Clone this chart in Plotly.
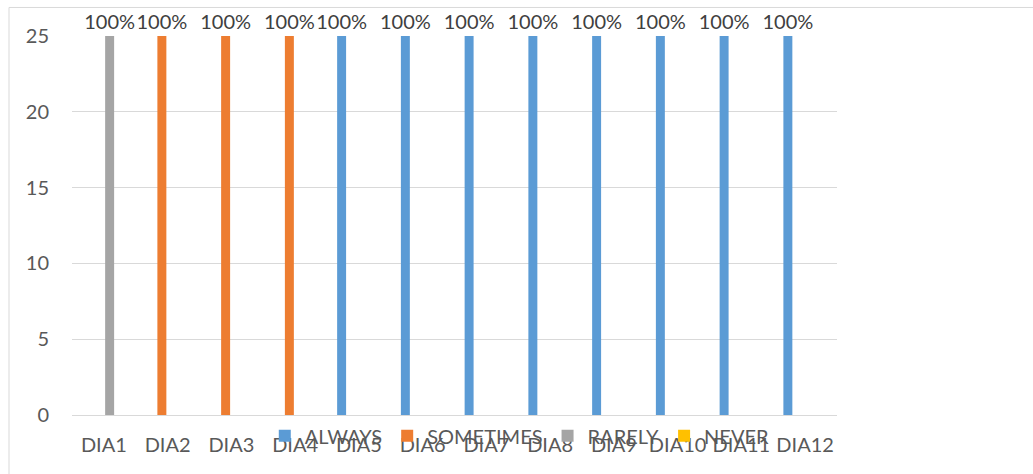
import plotly.graph_objects as go

categories = ["DIA1", "DIA2", "DIA3", "DIA4", "DIA5", "DIA6", "DIA7", "DIA8", "DIA9", "DIA10", "DIA11", "DIA12"]
always = [0, 0, 0, 0, 25, 25, 25, 25, 25, 25, 25, 25]
sometimes = [0, 25, 25, 25, 0, 0, 0, 0, 0, 0, 0, 0]
rarely = [25, 0, 0, 0, 0, 0, 0, 0, 0, 0, 0, 0]
never = [0, 0, 0, 0, 0, 0, 0, 0, 0, 0, 0, 0]
respondents = 25

series = [
    ("ALWAYS", always, "#5B9BD5"),
    ("SOMETIMES", sometimes, "#ED7D31"),
    ("RARELY", rarely, "#A5A5A5"),
    ("NEVER", never, "#FFC000"),
]

FONT = "Lato, Carlito, Calibri, sans-serif"

fig = go.Figure()
for name, vals, color in series:
    labels = [f"{v / respondents * 100:.0f}%" if v > 0 else "" for v in vals]
    fig.add_trace(go.Bar(
        x=categories, y=vals, name=name, marker_color=color,
        marker_line_width=0,
        text=labels, textposition="outside", constraintext="none",
        textfont=dict(family=FONT, size=20, color="#404040"),
        cliponaxis=False,
    ))

fig.update_layout(
    width=1033, height=474,
    margin=dict(l=72, r=196, t=36, b=59),
    paper_bgcolor="white", plot_bgcolor="white",
    barmode="group", bargap=0.278, bargroupgap=0.22,
    font=dict(family=FONT, size=20, color="#595959"),
    showlegend=True,
    legend=dict(orientation="h", x=0.252, xanchor="left", y=-0.055, yanchor="middle",
                font=dict(family=FONT, size=20, color="#595959"),
                bgcolor="rgba(0,0,0,0)", itemclick=False),
    xaxis=dict(showgrid=False, showline=True, linecolor="#d9d9d9", linewidth=1,
               ticks="", ticklabelstandoff=12,
               tickfont=dict(family=FONT, size=20, color="#595959")),
    yaxis=dict(range=[0, 25], dtick=5, showgrid=True, gridcolor="#d9d9d9", gridwidth=1,
               zeroline=False, showline=False, ticks="", ticklabelstandoff=22,
               tickfont=dict(family=FONT, size=20, color="#595959")),
)

fig.add_shape(type="rect", xref="paper", yref="paper",
              x0=(9 - 72) / 765, x1=(1045 - 72) / 765,
              y0=(414.7 - 490) / 378.7, y1=(414.7 - 7.5) / 378.7,
              line=dict(color="#d9d9d9", width=1), fillcolor="rgba(0,0,0,0)", layer="below")

fig.write_html("out.html", config={"displayModeBar": False},
               post_script="document.body.style.margin='0';")
